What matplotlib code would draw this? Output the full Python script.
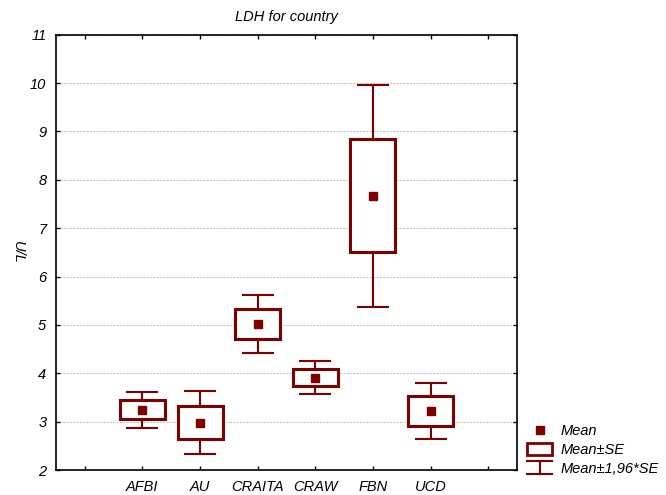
import matplotlib
matplotlib.use('Agg')
import matplotlib.pyplot as plt
from matplotlib.lines import Line2D
from matplotlib.patches import Rectangle
from matplotlib.legend_handler import HandlerBase

plt.rcParams['font.family'] = ['Liberation Sans', 'DejaVu Sans']
plt.rcParams['font.style'] = 'italic'
plt.rcParams['font.size'] = 10.5

# LDH per country: mean and standard error (U/L)
countries = ['AFBI', 'AU', 'CRAITA', 'CRAW', 'FBN', 'UCD']
means = [3.25, 2.98, 5.02, 3.91, 7.67, 3.22]
se = [0.19, 0.335, 0.31, 0.175, 1.17, 0.30]

dark_red = '#800000'
positions = list(range(1, len(countries) + 1))
ci = [1.96 * s for s in se]


class WhiskerHandler(HandlerBase):
    # draws the "I" shaped whisker symbol for the legend
    def create_artists(self, legend, orig_handle, xdescent, ydescent,
                       width, height, fontsize, trans):
        xc = width / 2 - xdescent
        y0 = -ydescent - 0.1 * height
        y1 = height - ydescent + 0.1 * height
        kw = dict(color=dark_red, linewidth=1.5, transform=trans)
        return [Line2D([xc, xc], [y0, y1], **kw),
                Line2D([-xdescent, width - xdescent], [y0, y0], **kw),
                Line2D([-xdescent, width - xdescent], [y1, y1], **kw)]


fig = plt.figure(figsize=(6.66, 4.95), dpi=100)
ax = fig.add_axes([0.0841, 0.0505, 0.6922, 0.8794])

# whiskers: mean +/- 1.96*SE
ax.errorbar(positions, means, yerr=ci, fmt='none', ecolor=dark_red,
            elinewidth=1.5, capsize=11.5, capthick=1.5, zorder=2)
# boxes: mean +/- SE
ax.bar(positions, [2 * s for s in se], bottom=[m - s for m, s in zip(means, se)],
       width=0.78, color='white', edgecolor=dark_red, linewidth=2.2, zorder=3)
# mean markers
ax.plot(positions, means, 's', color=dark_red, markersize=5.5, zorder=4)

ax.set_xlim(-0.5, 7.5)
ax.set_ylim(2, 11)
ax.set_xticks(range(0, 8))
ax.set_xticklabels([''] + countries + [''])
ax.set_yticks(range(2, 12))
ax.tick_params(direction='in', length=3, width=1, top=True, right=True, pad=7)
ax.yaxis.grid(True, color='#c8c8c8', linestyle=(0, (2, 1)), linewidth=0.8)
ax.set_axisbelow(True)
for spine in ax.spines.values():
    spine.set_linewidth(1.2)

ax.set_title('LDH for country', fontsize=10.5, pad=10)
ax.set_ylabel('U/L', rotation=270, labelpad=14)

whisker_key = Line2D([], [])
handles = [
    Line2D([], [], marker='s', color=dark_red, linestyle='none', markersize=5.5),
    Rectangle((0, 0), 1, 1, facecolor='white', edgecolor=dark_red, linewidth=2),
    whisker_key,
]
fig.legend(handles, ['Mean', 'Mean±SE', 'Mean±1,96*SE'],
           handler_map={whisker_key: WhiskerHandler()},
           loc='upper left', bbox_to_anchor=(0.791, 0.143), frameon=False,
           handlelength=1.75, handleheight=0.85, labelspacing=0.32,
           handletextpad=0.55, borderaxespad=0, borderpad=0)

plt.savefig('out.png', dpi=100)
